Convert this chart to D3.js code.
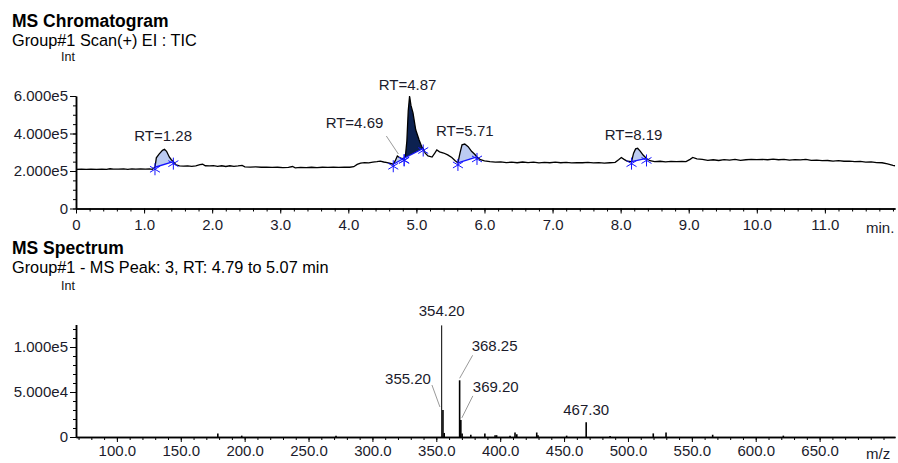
<!DOCTYPE html>
<html lang="en">
<head>
    <meta charset="UTF-8">
    <script src="https://cdn.jsdelivr.net/npm/d3@7"></script>
    <title>MS Chromatogram</title>
    <style>
        body { margin: 0; background: #fff; }
        svg { font-family: "Liberation Sans", Arial, sans-serif; }
        .title { font-weight: bold; font-size: 17.5px; fill: #000; }
        .sub { font-size: 16.3px; fill: #000; }
        .small { font-size: 12.5px; fill: #111; }
        .axis path { stroke: #000; stroke-width: 1.5px; }
        .axis line { stroke: #000; }
        .axis text { font-size: 15px; fill: #1b1b2b; font-family: "Liberation Sans", Arial, sans-serif; }
        .lbl { font-size: 15px; fill: #1b1b2b; }
        .trace { fill: none; stroke: #000; stroke-width: 1.3px; }
        .leader { stroke: #9a9a9a; stroke-width: 1px; }
    </style>
</head>
<body>
<svg width="898" height="463"></svg>

<script>
    // chromatogram (TIC), intensity in units of 1e5
    let ticTimes = [0.00,0.08,0.15,0.22,0.30,0.38,0.45,0.50,0.55,0.62,0.70,0.76,0.82,0.88,0.95,1.02,1.08,1.12,
        1.16,1.18,1.22,1.27,1.30,1.33,1.37,1.40,1.43,1.47,1.52,1.58,1.64,1.70,1.76,1.82,1.86,1.90,1.96,
        2.02,2.08,2.14,2.20,2.26,2.32,2.38,2.44,2.48,2.56,2.64,2.72,2.80,2.88,2.96,3.04,3.12,3.18,3.22,
        3.30,3.38,3.46,3.54,3.62,3.70,3.78,3.86,3.94,4.02,4.08,4.13,4.18,4.24,4.30,4.36,4.42,4.47,4.52,
        4.57,4.62,4.66,4.69,4.72,4.75,4.79,4.82,4.84,4.86,4.88,4.90,4.92,4.95,4.99,5.04,5.08,5.10,5.13,
        5.17,5.23,5.27,5.30,5.34,5.40,5.46,5.52,5.57,5.61,5.64,5.67,5.71,5.76,5.81,5.86,5.89,5.94,6.00,
        6.08,6.16,6.24,6.32,6.40,6.48,6.56,6.64,6.72,6.80,6.88,6.96,7.04,7.12,7.20,7.28,7.36,7.44,7.52,
        7.60,7.68,7.76,7.84,7.92,7.97,8.01,8.05,8.10,8.16,8.19,8.22,8.25,8.29,8.33,8.38,8.43,8.50,8.58,
        8.66,8.74,8.82,8.90,8.96,9.02,9.06,9.12,9.20,9.28,9.36,9.44,9.52,9.60,9.68,9.76,9.84,9.92,10.00,
        10.08,10.16,10.24,10.32,10.40,10.48,10.56,10.64,10.72,10.80,10.88,10.96,11.04,11.12,11.20,11.28,
        11.36,11.44,11.52,11.60,11.68,11.76,11.84,11.92,12.00,12.03];
    let ticValues = [2.09,2.10,2.09,2.10,2.09,2.10,2.09,2.12,2.10,2.10,2.11,2.09,2.11,2.10,2.11,2.10,2.11,2.09,
        2.20,2.70,2.90,3.10,3.16,3.05,2.75,2.60,2.50,2.33,2.27,2.26,2.27,2.25,2.27,2.34,2.36,2.28,2.27,
        2.29,2.25,2.28,2.24,2.28,2.25,2.27,2.30,2.22,2.21,2.22,2.20,2.21,2.19,2.20,2.18,2.19,2.24,2.17,
        2.19,2.18,2.20,2.18,2.20,2.19,2.21,2.19,2.21,2.20,2.23,2.35,2.42,2.45,2.43,2.47,2.50,2.53,2.48,
        2.45,2.40,2.36,2.55,2.80,2.72,2.66,2.68,2.85,3.60,5.20,6.00,5.50,5.10,4.20,3.65,3.28,3.20,2.95,
        2.80,2.74,2.95,3.12,3.02,2.96,2.86,2.72,2.55,2.43,2.95,3.40,3.44,3.30,3.05,2.88,2.75,2.60,2.54,
        2.50,2.47,2.49,2.45,2.47,2.44,2.48,2.45,2.47,2.43,2.46,2.44,2.47,2.44,2.46,2.43,2.45,2.44,2.46,
        2.43,2.45,2.42,2.44,2.46,2.60,2.72,2.62,2.52,2.50,2.95,3.18,3.21,3.05,2.85,2.67,2.55,2.50,2.52,
        2.49,2.51,2.50,2.51,2.50,2.62,2.72,2.65,2.62,2.57,2.60,2.56,2.61,2.58,2.62,2.57,2.60,2.62,2.61,
        2.62,2.60,2.63,2.60,2.62,2.58,2.61,2.59,2.62,2.57,2.58,2.55,2.56,2.53,2.55,2.52,
        2.53,2.50,2.51,2.47,2.49,2.45,2.44,2.38,2.30,2.28];

    // integrated peaks
    let peakLabels = ["RT=1.28", "RT=4.69", "RT=4.87", "RT=5.71", "RT=8.19"];
    let peakRT = [1.28, 4.69, 4.87, 5.71, 8.19];
    let peakStart = [1.16, 4.66, 4.82, 5.61, 8.16];
    let peakEnd = [1.43, 4.82, 5.10, 5.89, 8.38];
    let peakApex = [1.30, 4.72, 4.90, 5.71, 8.25];

    // axis ticks
    let rtTicks = [0,1,2,3,4,5,6,7,8,9,10,11];
    let ticTicks = [0,2,4,6];
    let mzTicks = [100,150,200,250,300,350,400,450,500,550,600,650];
    let intTicks = [0,50000,100000];

    // MS spectrum
    let mzValues = [179.0,197.7,271.5,354.20,355.20,356.2,368.25,369.20,370.2,377.0,388.0,396.0,397.2,407.7,411.6,413.0,
        428.6,429.6,452.0,467.30,486.0,519.8,529.8,566.3,621.6];
    let mzIntensity = [4000,1500,1500,124000,30000,4500,63000,19000,4000,2500,4000,2000,2000,1500,5000,3000,
        5000,2000,1500,16300,1000,4000,5000,2500,1500];
    let mzLabelled = [354.20, 355.20, 368.25, 369.20, 467.30];
    let mzLabelText = ["354.20", "355.20", "368.25", "369.20", "467.30"];

    let svg = d3.select("svg");
    svg.append("rect").attr("width", 898).attr("height", 463).attr("fill", "#fff");

    // ---------- titles ----------
    svg.append("text").attr("class", "title").attr("x", 12).attr("y", 27).text("MS Chromatogram");
    svg.append("text").attr("class", "sub").attr("x", 12).attr("y", 46).text("Group#1 Scan(+) EI : TIC");
    svg.append("text").attr("class", "small").attr("x", 61).attr("y", 61).text("Int");
    svg.append("text").attr("class", "title").attr("x", 12).attr("y", 254).text("MS Spectrum");
    svg.append("text").attr("class", "sub").attr("x", 12).attr("y", 273).text("Group#1 - MS Peak: 3, RT: 4.79 to 5.07 min");
    svg.append("text").attr("class", "small").attr("x", 61).attr("y", 290).text("Int");

    // ---------- chromatogram ----------
    let x1 = d3.scaleLinear().domain([0, 12.03]).range([76, 895]);
    let y1 = d3.scaleLinear().domain([0, 6]).range([208.5, 96]);
    let tic = ticTimes.map((t, i) => ({t: t, v: ticValues[i]}));
    let valAt = t => tic.find(d => Math.abs(d.t - t) < 1e-6).v;

    let fmtE = v => v === 0 ? "0" : v.toExponential(3).replace("e+", "e");

    let gTop = svg.append("g");
    gTop.append("g").attr("class", "axis").attr("transform", "translate(0,208.5)")
        .call(d3.axisBottom(x1).tickValues(d3.range(0, 12.02, 0.2)).tickSize(3).tickSizeOuter(0).tickFormat(""));
    gTop.append("g").attr("class", "axis").attr("transform", "translate(0,208.5)")
        .call(d3.axisBottom(x1).tickValues(rtTicks).tickSize(5).tickSizeOuter(0).tickPadding(6)
            .tickFormat(d => d === 0 ? "0" : d.toFixed(1)));
    gTop.append("g").attr("class", "axis").attr("transform", "translate(76,0)")
        .call(d3.axisLeft(y1).tickValues(d3.range(0, 6.01, 0.5)).tickSize(3).tickSizeOuter(0).tickFormat(""));
    gTop.append("g").attr("class", "axis").attr("transform", "translate(76,0)")
        .call(d3.axisLeft(y1).tickValues(ticTicks).tickSize(6).tickSizeOuter(0).tickPadding(2)
            .tickFormat(d => fmtE(d * 1e5)));
    gTop.append("text").attr("class", "lbl").attr("x", 866).attr("y", 233).text("min.");

    // peak fills
    peakStart.forEach((s, i) => {
        let e = peakEnd[i];
        let vs = valAt(s), ve = valAt(e);
        let base = t => vs + (ve - vs) * (t - s) / (e - s);
        let pts = tic.filter(d => d.t >= s - 1e-6 && d.t <= e + 1e-6);
        gTop.append("path")
            .attr("d", d3.area().x(d => x1(d.t)).y0(d => y1(base(d.t))).y1(d => y1(d.v))(pts))
            .attr("fill", i === 2 ? "#0c2150" : "#bccbf2");
    });

    gTop.append("path").attr("class", "trace")
        .attr("d", d3.line().x(d => x1(d.t)).y(d => y1(d.v))(tic));

    // baselines and markers
    let star = (cx, cy) => `M${cx},${cy - 6}L${cx},${cy + 6}M${cx - 5},${cy - 3}L${cx + 5},${cy + 3}M${cx - 5},${cy + 3}L${cx + 5},${cy - 3}`;
    peakStart.forEach((s, i) => {
        let e = peakEnd[i];
        gTop.append("line")
            .attr("x1", x1(s)).attr("y1", y1(valAt(s)))
            .attr("x2", x1(e)).attr("y2", y1(valAt(e)))
            .attr("stroke", "#1414ff").attr("stroke-width", 1.4);
        [s, e].forEach(t => {
            gTop.append("path").attr("d", star(x1(t), y1(valAt(t)) + 2))
                .attr("stroke", "#1414ff").attr("stroke-width", 1).attr("fill", "none");
        });
    });

    // peak labels
    peakLabels.forEach((txt, i) => {
        let ax = x1(peakApex[i]), ay = y1(valAt(peakApex[i]));
        if (i === 1) {
            gTop.append("line").attr("class", "leader")
                .attr("x1", ax - 11).attr("y1", ay - 20).attr("x2", ax + 1).attr("y2", ay - 2);
            gTop.append("text").attr("class", "lbl").attr("text-anchor", "end")
                .attr("x", ax - 14).attr("y", ay - 28).text(txt);
        } else {
            gTop.append("text").attr("class", "lbl").attr("text-anchor", "middle")
                .attr("x", x1(peakRT[i])).attr("y", ay - (i === 2 ? 6 : 8.5)).text(txt);
        }
    });

    // ---------- spectrum ----------
    let x2 = d3.scaleLinear().domain([68, 709]).range([76, 895]);
    let y2 = d3.scaleLinear().domain([0, 125000]).range([437, 324.5]);

    let gBot = svg.append("g");
    gBot.append("g").attr("class", "axis").attr("transform", "translate(0,437)")
        .call(d3.axisBottom(x2).tickValues(d3.range(70, 709, 10)).tickSize(3).tickSizeOuter(0).tickFormat(""));
    gBot.append("g").attr("class", "axis").attr("transform", "translate(0,437)")
        .call(d3.axisBottom(x2).tickValues(mzTicks).tickSize(5).tickSizeOuter(0).tickPadding(3)
            .tickFormat(d => d.toFixed(1)));
    gBot.append("g").attr("class", "axis").attr("transform", "translate(76,0)")
        .call(d3.axisLeft(y2).tickValues(d3.range(0, 125001, 10000)).tickSize(3).tickSizeOuter(0).tickFormat(""));
    gBot.append("g").attr("class", "axis").attr("transform", "translate(76,0)")
        .call(d3.axisLeft(y2).tickValues(intTicks).tickSize(6).tickSizeOuter(0).tickPadding(2).tickFormat(fmtE));
    gBot.append("text").attr("class", "lbl").attr("x", 866).attr("y", 459).text("m/z");

    gBot.selectAll("line.bar")
        .data(mzValues.map((m, i) => ({m: m, v: mzIntensity[i]})))
        .enter().append("line").attr("class", "bar")
        .attr("x1", d => x2(d.m)).attr("x2", d => x2(d.m))
        .attr("y1", y2(0)).attr("y2", d => y2(d.v))
        .attr("stroke", "#000").attr("stroke-width", d => d.v > 100000 ? 1 : 1.6);

    // label placement: [anchor, dx, dy, leader]
    let labelPlace = [
        ["middle", 0, -9, null],
        ["end", -12, -26, [-11, -25, -3, -3]],
        ["start", 12, -29, [13, -25, 0, -2]],
        ["start", 12, -28, [12, -24, 1, -2]],
        ["middle", 0, -7, null]
    ];
    mzLabelled.forEach((m, i) => {
        let bx = x2(m), by = y2(mzIntensity[mzValues.indexOf(m)]);
        let p = labelPlace[i];
        if (p[3]) {
            gBot.append("line").attr("class", "leader")
                .attr("x1", bx + p[3][0]).attr("y1", by + p[3][1])
                .attr("x2", bx + p[3][2]).attr("y2", by + p[3][3]);
        }
        gBot.append("text").attr("class", "lbl").attr("text-anchor", p[0])
            .attr("x", bx + p[1]).attr("y", by + p[2]).text(mzLabelText[i]);
    });
</script>
</body>
</html>
